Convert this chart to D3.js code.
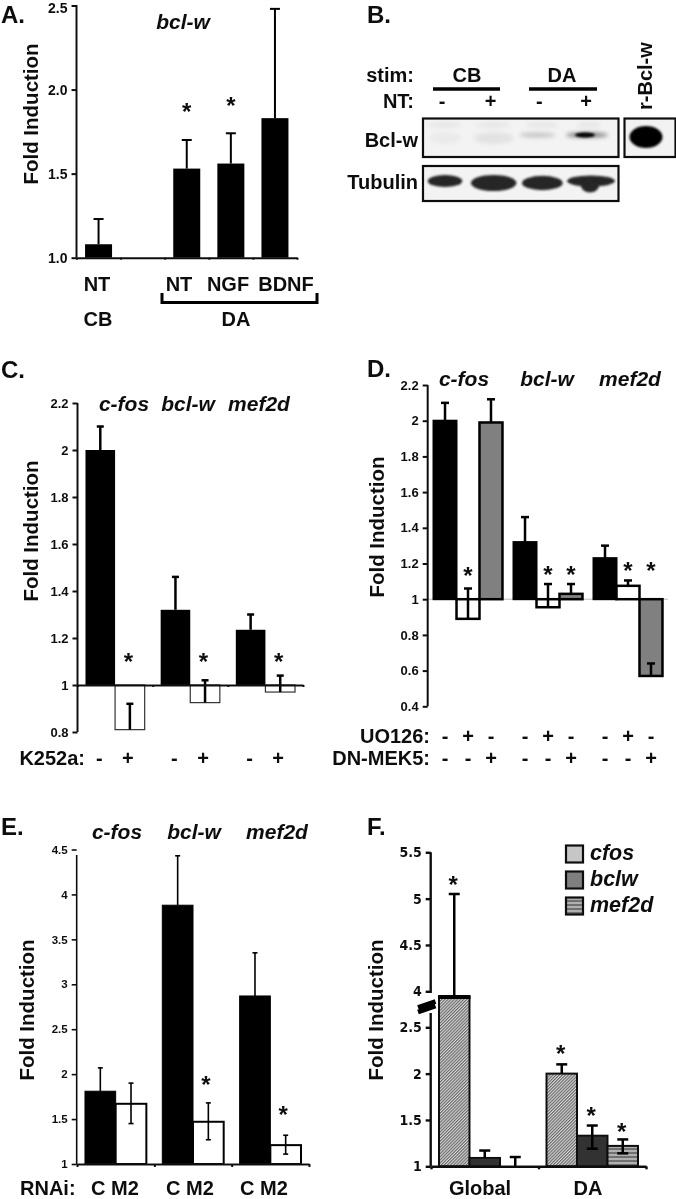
<!DOCTYPE html>
<html><head><meta charset="utf-8">
<style>
html,body{margin:0;padding:0;background:#fff}
svg{display:block}
text{font-family:"Liberation Sans",Arial,sans-serif;font-weight:bold;fill:#111}
.axis path,.axis line{stroke:#111;fill:none}
</style>
<script src="https://cdnjs.cloudflare.com/ajax/libs/d3/7.8.5/d3.min.js"></script>
</head><body>
<script>
// ---------- Panel A
const aCats=["NT CB","","NT DA","NGF","BDNF"];
const aVals=[1.08,null,1.53,1.56,1.83];
const aErr=[1.23,null,1.70,1.74,2.48];
const aStars=[null,null,1.88,1.915,null];
const aTicks=[1,1.5,2,2.5];
// ---------- Panel C
const genes=["c-fos","bcl-w","mef2d"];
const cSeries=["-","+"];
const cVals=[[2.0,0.81],[1.32,0.925],[1.235,0.97]];
const cHi=[[2.1,0.92],[1.46,1.02],[1.30,1.04]];
const cStars=[[null,1.105],[null,1.105],[null,1.105]];
const cTicks=[0.8,1,1.2,1.4,1.6,1.8,2,2.2];
// ---------- Panel D
const dSeries=["ctl","UO126","DN-MEK5"];
const dVals=[[2.0,0.89,1.99],[1.32,0.955,1.03],[1.23,1.075,0.57]];
const dHi=[[2.1,1.06,2.12],[1.46,1.085,1.085],[1.30,1.105,0.64]];
const dStars=[[null,1.14,null],[null,1.15,1.15],[null,1.17,1.17]];
const dTicks=[0.4,0.6,0.8,1,1.2,1.4,1.6,1.8,2,2.2];
const dUO=["-","+","-"];
const dDN=["-","-","+"];
// ---------- Panel E
const eSeries=["C","M2"];
const eVals=[[1.81,1.67],[3.88,1.47],[2.87,1.21]];
const eHi=[[2.07,1.90],[4.43,1.68],[3.35,1.32]];
const eLo=[[1.81,1.45],[3.88,1.27],[2.87,1.11]];
const eStars=[[null,null],[null,1.9],[null,1.57]];
const eTicks=[1,1.5,2,2.5,3,3.5,4,4.5];
// ---------- Panel F
const fGroups=["Global","DA"];
const fSeries=["cfos","bclw","mef2d"];
const fVals=[[3.76,1.09,1.0],[2.0,1.33,1.22]];
const fHi=[[5.05,1.17,1.10],[2.10,1.44,1.29]];
const fLo=[[3.76,1.09,1.0],[2.0,1.19,1.14]];
const fStars=[[5.17,null,null],[2.23,1.56,1.39]];
const fTicks=[1,1.5,2,2.5,4,4.5,5,5.5];
const fBreak=[1,2.5,4,5.5];
// ---------- Panel B (band strengths, read from the blot)
const lanes=["CB -","CB +","DA -","DA +"];
const laneSigns=["-","+","-","+"];
const bclwLevels=[0.05,0.10,0.30,0.75];
const bclwSpread=[0.75,0.95,0.85,1.0];
const tubulinLevels=[0.72,0.95,0.85,1.0];

const W=676,H=1199;
const svg=d3.select("body").append("svg").attr("width",W).attr("height",H);
const defs=svg.append("defs");
defs.append("filter").attr("id","soft").attr("x","-2%").attr("y","-2%").attr("width","104%").attr("height","104%")
  .append("feGaussianBlur").attr("stdDeviation",0.4);
defs.append("filter").attr("id","blot").attr("x","-50%").attr("y","-100%").attr("width","200%").attr("height","300%")
  .append("feGaussianBlur").attr("stdDeviation",2);
defs.append("filter").attr("id","blotTight").attr("x","-50%").attr("y","-100%").attr("width","200%").attr("height","300%")
  .append("feGaussianBlur").attr("stdDeviation",1.1);
const h=defs.append("pattern").attr("id","hatch").attr("width",2.2).attr("height",2.2)
  .attr("patternUnits","userSpaceOnUse").attr("patternTransform","rotate(45)");
h.append("rect").attr("width",2.2).attr("height",2.2).attr("fill","#d8d8d8");
h.append("rect").attr("width",1.1).attr("height",2.2).attr("fill","#666");
const st=defs.append("pattern").attr("id","stripes").attr("width",4).attr("height",4).attr("patternUnits","userSpaceOnUse");
st.append("rect").attr("width",4).attr("height",4).attr("fill","#b0b0b0");
st.append("rect").attr("width",4).attr("height",2).attr("fill","#707070");

const root=svg.append("g").attr("filter","url(#soft)");

function T(x,y,s,size,opt={}){
  const t=root.append("text").attr("x",x).attr("y",y).text(s).attr("font-size",size)
    .attr("text-anchor",opt.anchor||"start");
  if(opt.italic)t.attr("font-style","italic");
  if(opt.rotate)t.attr("transform",`rotate(-90 ${x} ${y})`);
  if(opt.family)t.style("font-family",opt.family);
  return t;
}
function yAxis(y,x,ticks,size,fmt,sw,top,bottom,family){
  const g=root.append("g").attr("class","axis").attr("transform",`translate(${x},0)`)
    .call(d3.axisLeft(y).tickValues(ticks).tickSize(5).tickPadding(4).tickFormat(fmt));
  g.select(".domain").attr("d",`M0,${top}V${bottom}`).attr("stroke-width",sw);
  g.selectAll(".tick line").attr("stroke-width",sw);
  g.selectAll("text").attr("font-size",size).style("font-family",family||null);
  return g;
}
function xAxis(x0,x1,n,yPos,sw,tick,color){
  const s=d3.scaleLinear().domain([0,n]).range([x0,x1]);
  const g=root.append("g").attr("class","axis").attr("transform",`translate(0,${yPos})`)
    .call(d3.axisBottom(s).tickValues(d3.range(n+1)).tickSize(tick).tickSizeOuter(0).tickFormat(""));
  g.selectAll("path,line").attr("stroke-width",sw).attr("stroke",color||"#111");
  return g;
}
function bars(items,y,base,o){
  const g=root.append("g");
  g.selectAll("rect").data(items.filter(d=>d.v!=null&&d.v!==base)).join("rect")
    .attr("x",d=>d.x).attr("width",d=>d.w)
    .attr("y",d=>Math.min(y(d.v),y(base))).attr("height",d=>Math.abs(y(d.v)-y(base)))
    .attr("fill",d=>d.fill).attr("stroke",d=>d.stroke||"#000").attr("stroke-width",d=>d.sw==null?o.sw:d.sw);
  const e=root.append("g").attr("stroke","#000").attr("stroke-width",o.err).attr("fill","none");
  items.filter(d=>d.hi!=null).forEach(d=>{
    const c=d.x+d.w/2+(o.shift||0), lo=d.lo==null?d.v:d.lo;
    e.append("line").attr("x1",c).attr("x2",c).attr("y1",y(lo)).attr("y2",y(d.hi));
    e.append("line").attr("x1",c-o.cap).attr("x2",c+o.cap).attr("y1",y(d.hi)).attr("y2",y(d.hi));
    if(d.lo!=null&&d.lo!==d.v)e.append("line").attr("x1",c-o.cap).attr("x2",c+o.cap).attr("y1",y(d.lo)).attr("y2",y(d.lo));
  });
  items.filter(d=>d.star!=null).forEach(d=>{
    root.append("text").attr("x",d.x+d.w/2+(o.starShift||0)).attr("y",y(d.star)).attr("dy","0.42em")
      .attr("text-anchor","middle").attr("font-size",24).text("*");
  });
}
function grouped(groups,series,x0,ox,vals,hi,lo,stars,fills){
  const x1=d3.scaleBand().domain(series).range([0,x0.bandwidth()]).paddingInner(0).paddingOuter(ox);
  const out=[];
  groups.forEach((g,i)=>series.forEach((s,j)=>{
    const f=fills[j];
    out.push({x:x0(g)+x1(s),w:x1.bandwidth(),v:vals[i][j],hi:hi[i][j],lo:lo?lo[i][j]:null,star:stars[i][j],fill:f.fill,stroke:f.stroke,sw:f.sw,g:i,s:j});
  }));
  return {items:out,x1};
}
const fold="Fold Induction";
const LETTER=24, LAB=20.5;

// ================= Panel A
T(1,23,"A.",LETTER);
{
  const y=d3.scaleLinear().domain([1,2.5]).range([257.7,5.5]);
  const x=d3.scaleBand().domain(aCats).range([76.5,297]);
  const bw=27;
  const items=aCats.map((c,i)=>({x:x(c)+(x.bandwidth()-bw)/2,w:bw,v:aVals[i],hi:aErr[i],star:aStars[i],fill:"#000"}));
  bars(items,y,1,{sw:0,err:2,cap:5});
  const ax=yAxis(y,76.5,aTicks,14,d3.format(".1f"),2,5,257.7);
  ax.selectAll(".tick").filter(d=>d===2.5).select("text").attr("y",3);
  xAxis(76.5,297,5,257.7,2,2);
  T(37.5,114,fold,LAB,{anchor:"middle",rotate:true});
  T(183,29,"bcl-w",21,{anchor:"middle",italic:true});
  const lab=291;
  T(97,lab,"NT",20,{anchor:"middle"});
  T(179,lab,"NT",20,{anchor:"middle"});
  T(228,lab,"NGF",20,{anchor:"middle"});
  T(286,lab,"BDNF",20,{anchor:"middle"});
  T(98,326,"CB",20,{anchor:"middle"});
  T(236,326,"DA",20,{anchor:"middle"});
  root.append("path").attr("d","M162,293V302.5H317V293").attr("fill","none").attr("stroke","#000").attr("stroke-width",3);
}

// ================= Panel B
T(367,23,"B.",LETTER);
{
  const x=d3.scalePoint().domain(lanes).range([445,591]);
  T(414,82,"stim:",20,{anchor:"end"});
  T(467,82,"CB",20,{anchor:"middle"});
  T(562,82,"DA",20,{anchor:"middle"});
  root.append("line").attr("x1",433).attr("x2",500).attr("y1",89).attr("y2",89).attr("stroke","#000").attr("stroke-width",3.5);
  root.append("line").attr("x1",529).attr("x2",597).attr("y1",89).attr("y2",89).attr("stroke","#000").attr("stroke-width",3.5);
  T(414,108,"NT:",20,{anchor:"end"});
  lanes.forEach((l,i)=>T(x(l)-3+(i==3?-2:0),108,laneSigns[i],20,{anchor:"middle"}));
  T(418,147,"Bcl-w",20,{anchor:"end"});
  T(418,189,"Tubulin",20,{anchor:"end"});
  T(652,110,"r-Bcl-w",20,{rotate:true});

  const clip=(id,a,b,w,ht)=>defs.append("clipPath").attr("id",id).append("rect").attr("x",a).attr("y",b).attr("width",w).attr("height",ht);
  clip("c1",423,118.5,195.5,38.5);clip("c2",423,166,195.5,35);clip("c3",624.5,118.5,51,38.5);

  const g1=root.append("g").attr("clip-path","url(#c1)");
  g1.append("rect").attr("x",423).attr("y",118).attr("width",196).attr("height",39).attr("fill","#f3f3f3");
  g1.selectAll("ellipse.wide").data(lanes).join("ellipse").attr("class","wide")
    .attr("cx",d=>x(d)-(d==="DA -"?5:0)-(d==="DA +"?4:0)).attr("cy",(d,i)=>i<2?138:135)
    .attr("rx",(d,i)=>21*bclwSpread[i]).attr("ry",(d,i)=>i<2?6:2.6)
    .attr("fill","#555").attr("opacity",(d,i)=>bclwLevels[i])
    .attr("filter","url(#blot)");
  g1.selectAll("ellipse.top").data(lanes).join("ellipse").attr("class","top")
    .attr("cx",d=>x(d)-(d==="DA +"?2:0)).attr("cy",125).attr("rx",(d,i)=>i==3?12:17).attr("ry",2.5)
    .attr("fill","#888").attr("opacity",0.13).attr("filter","url(#blot)");
  g1.append("ellipse").attr("cx",x("DA +")-6).attr("cy",135).attr("rx",10).attr("ry",2.6).attr("fill","#000")
    .attr("opacity",bclwLevels[3]+0.25).attr("filter","url(#blotTight)");

  const g2=root.append("g").attr("clip-path","url(#c2)");
  g2.append("rect").attr("x",423).attr("y",166).attr("width",196).attr("height",35).attr("fill","#f3f3f3");
  g2.selectAll("ellipse").data(lanes).join("ellipse")
    .attr("cx",d=>x(d)).attr("cy",(d,i)=>i===0?181:(i===3?181:183))
    .attr("rx",(d,i)=>24*tubulinLevels[i]).attr("ry",(d,i)=>i===3?5.5:8.5*tubulinLevels[i])
    .attr("fill","#262626").attr("filter","url(#blotTight)");
  g2.append("ellipse").attr("cx",x("DA +")-1).attr("cy",186).attr("rx",9).attr("ry",6.5)
    .attr("fill","#262626").attr("filter","url(#blotTight)");

  const g3=root.append("g").attr("clip-path","url(#c3)");
  g3.append("rect").attr("x",624).attr("y",118).attr("width",52).attr("height",39).attr("fill","#f2f2f2");
  g3.append("ellipse").attr("cx",646).attr("cy",137).attr("rx",16.5).attr("ry",11).attr("fill","#000").attr("filter","url(#blotTight)");

  [[423,118.5,195.5,38.5],[423,166,195.5,35],[624.5,118.5,51,38.5]].forEach(b=>
    root.append("rect").attr("x",b[0]).attr("y",b[1]).attr("width",b[2]).attr("height",b[3])
      .attr("fill","none").attr("stroke","#111").attr("stroke-width",2.2));
}

// ================= Panel C
T(1,378,"C.",LETTER);
{
  const y=d3.scaleLinear().domain([0.8,2.2]).range([732,403]);
  const x0=d3.scaleBand().domain(genes).range([77.5,303]);
  const {items}=grouped(genes,cSeries,x0,0.27,cVals,cHi,null,cStars,[{fill:"#000",sw:0},{fill:"#fff",stroke:"#333",sw:1.2}]);
  bars(items,y,1,{sw:0,err:2.5,cap:3.5,starShift:-1.5});
  yAxis(y,77.5,cTicks,13,d=>d3.format("~g")(d),2,403,732);
  xAxis(77.5,303,3,685,2,2);
  T(38,531,fold,LAB,{anchor:"middle",rotate:true});
  const gx=[124,188,259];
  genes.forEach((g,i)=>T(gx[i],411,g,21,{anchor:"middle",italic:true}));
  T(85,765,"K252a:",20,{anchor:"end"});
  items.forEach(d=>T(d.x+d.w/2-1-(d.s?1:0),765,cSeries[d.s],20,{anchor:"middle"}));
}

// ================= Panel D
T(367,377,"D.",LETTER);
{
  const y=d3.scaleLinear().domain([0.4,2.2]).range([706.3,385]);
  const x0=d3.scaleBand().domain(genes).range([428,668]);
  const fl=[{fill:"#000",sw:2},{fill:"#fff",stroke:"#000",sw:2.5},{fill:"#808080",stroke:"#000",sw:2.5}];
  const {items}=grouped(genes,dSeries,x0,0.24,dVals,dHi,null,dStars,fl);
  root.append("line").attr("x1",428).attr("x2",668).attr("y1",y(1)).attr("y2",y(1)).attr("stroke","#bbb").attr("stroke-width",1);
  bars(items,y,1,{sw:2,err:2.5,cap:4});
  yAxis(y,427.7,dTicks,13,d=>d3.format("~g")(d),2,385,706.3);
  T(384,527,fold,LAB,{anchor:"middle",rotate:true});
  const gx=[464,547,630];
  genes.forEach((g,i)=>T(gx[i],386,g,21,{anchor:"middle",italic:true}));
  T(430,743,"UO126:",20,{anchor:"end"});
  T(430,765,"DN-MEK5:",20,{anchor:"end"});
  items.forEach(d=>{
    T(d.x+d.w/2,743,dUO[d.s],20,{anchor:"middle"});
    T(d.x+d.w/2,765,dDN[d.s],20,{anchor:"middle"});
  });
}

// ================= Panel E
T(1,835,"E.",LETTER);
{
  const y=d3.scaleLinear().domain([1,4.5]).range([1164,849.5]);
  const x0=d3.scaleBand().domain(genes).range([77,309]);
  const fl=[{fill:"#000",sw:1},{fill:"#fff",stroke:"#000",sw:2}];
  const {items}=grouped(genes,eSeries,x0,0.26,eVals,eHi,eLo,eStars,fl);
  bars(items,y,1,{sw:1,err:1.6,cap:2.5,starShift:-2.5});
  yAxis(y,76.7,eTicks,11.5,d=>d3.format("~g")(d),1.6,855,1164);
  xAxis(77,309,3,1164,2,3);
  T(34,1010,fold,LAB,{anchor:"middle",rotate:true});
  const gx=[117,194,277];
  genes.forEach((g,i)=>T(gx[i],839,g,21,{anchor:"middle",italic:true}));
  T(20,1194.5,"RNAi:",20);
  const cx=[115,190,264];
  cx.forEach(c=>T(c,1194.5,eSeries.join(" "),20,{anchor:"middle"}));
}

// ================= Panel F
T(367,835,"F.",LETTER);
{
  const y=d3.scaleLinear().domain(fBreak).range([1166.3,1027.3,991.3,852.3]);
  const x0=d3.scaleBand().domain(fGroups).range([431,646]);
  const {items}=grouped(fGroups,fSeries,x0,0.262,fVals,fHi,fLo,fStars,[
    {fill:"url(#hatch)",stroke:"#111",sw:2},{fill:"#333",stroke:"#111",sw:2},{fill:"url(#stripes)",stroke:"#111",sw:2}]);
  bars(items,y,1,{sw:2,err:2.5,cap:5.5,starShift:-1});
  // heavy lid on the broken bar
  const broken=items[0];
  root.append("line").attr("x1",broken.x-1).attr("x2",broken.x+broken.w+1)
    .attr("y1",y(broken.v)).attr("y2",y(broken.v)).attr("stroke","#000").attr("stroke-width",4);
  yAxis(y,430.7,fTicks,14,d=>d3.format("~g")(d),2.4,852.3,1166.3,'"DejaVu Sans Condensed","Liberation Sans Narrow",sans-serif');
  xAxis(431,646,2,1166.3,2.4,3);
  root.append("rect").attr("x",427).attr("y",993).attr("width",7).attr("height",20).attr("fill","#fff");
  root.append("path").attr("d","M418,1007.5L435.5,1001.5M418,1012L435.5,1006")
    .attr("stroke","#000").attr("stroke-width",5).attr("fill","none");
  T(383,1010,fold,LAB,{anchor:"middle",rotate:true});
  T(480,1194.5,"Global",20,{anchor:"middle"});
  T(588,1194.5,"DA",20,{anchor:"middle"});
  const ly=d3.scaleBand().domain(fSeries).range([845.5,923.5]);
  const lf={cfos:"#c6c6c6",bclw:"#7f7f7f",mef2d:"url(#stripes)"};
  fSeries.forEach(s=>{
    root.append("rect").attr("x",566).attr("y",ly(s)).attr("width",17).attr("height",17)
      .attr("fill",lf[s]).attr("stroke","#111").attr("stroke-width",2.2);
    T(590,ly(s)+14.5,s,21.5,{italic:true});
  });
}
</script>
</body></html>
